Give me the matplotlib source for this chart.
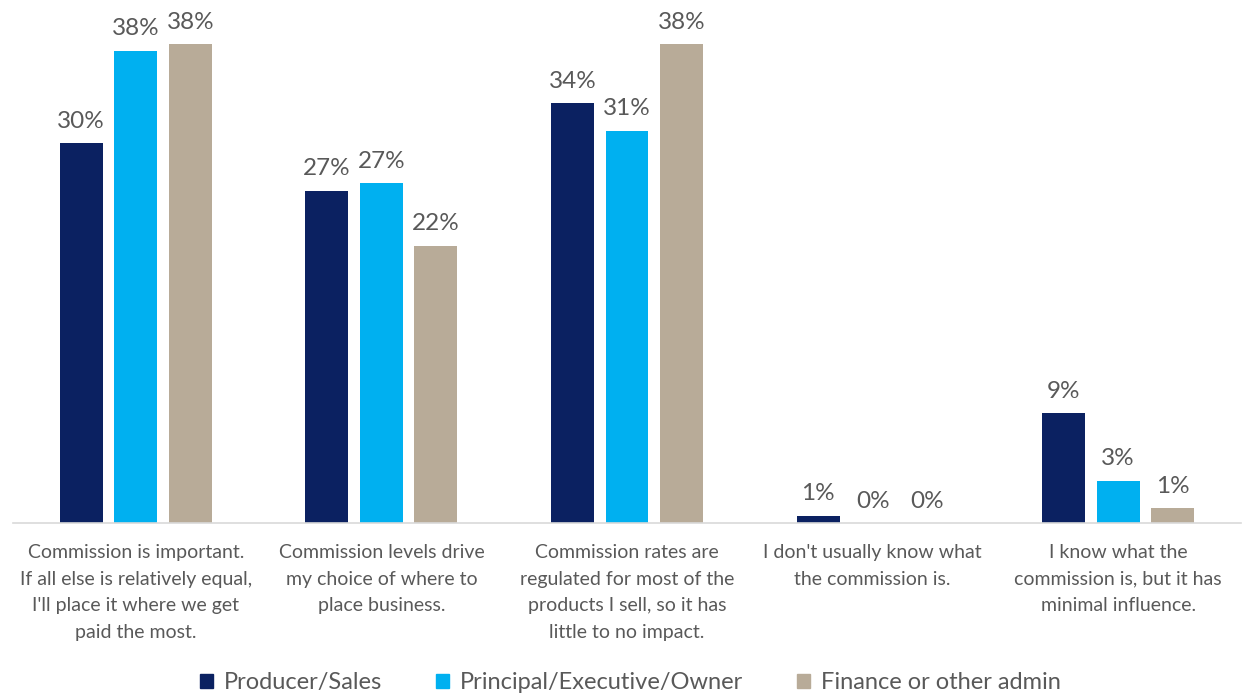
import numpy as np
import matplotlib.pyplot as plt
from matplotlib.patches import Patch

plt.rcParams['font.family'] = ['Lato', 'DejaVu Sans']

# Survey answers (x axis) and share of respondents per role, in percent
categories = [
    "Commission is important.\nIf all else is relatively equal,\nI'll place it where we get\npaid the most.",
    "Commission levels drive\nmy choice of where to\nplace business.",
    "Commission rates are\nregulated for most of the\nproducts I sell, so it has\nlittle to no impact.",
    "I don't usually know what\nthe commission is.",
    "I know what the\ncommission is, but it has\nminimal influence.",
]
producer = [30.4, 26.6, 33.6, 0.6, 8.8]
principal = [37.8, 27.2, 31.4, 0.0, 3.4]
finance = [38.3, 22.2, 38.3, 0.0, 1.2]

series = [
    ('Producer/Sales', producer, '#0B2161'),
    ('Principal/Executive/Owner', principal, '#00B0F0'),
    ('Finance or other admin', finance, '#B8AB98'),
]

fig = plt.figure(figsize=(12.43, 6.94), dpi=100)
ax = fig.add_axes([13 / 1243, 171 / 694, 1228 / 1243, 500 / 694])

x = np.arange(len(categories))
width = 0.175
step = 0.222
text_col = '#595959'

for i, (name, vals, col) in enumerate(series):
    pos = x + (i - 1) * step
    bars = ax.bar(pos, vals, width, color=col, label=name)
    for b, v in zip(bars, vals):
        ax.annotate(f'{v:.0f}%', (b.get_x() + b.get_width() / 2, v),
                    xytext=(0, 8), textcoords='offset points',
                    ha='center', va='bottom', fontsize=17.5, color=text_col)

ax.set_xlim(-0.5, len(categories) - 0.5)
ax.set_ylim(0, 40)
ax.set_yticks([])
ax.set_xticks(x)
ax.set_xticklabels(categories, fontsize=14, color=text_col, linespacing=1.7)
ax.tick_params(axis='x', length=0, pad=15)
for s in ['top', 'right', 'left']:
    ax.spines[s].set_visible(False)
ax.spines['bottom'].set_color('#D9D9D9')
ax.spines['bottom'].set_linewidth(1.2)

handles = [Patch(color=col, label=name) for name, _, col in series]
leg = fig.legend(handles=handles, loc='center', bbox_to_anchor=(0.507, 0.016),
                 ncol=3, frameon=False, fontsize=17, handlelength=0.55,
                 handleheight=0.55, handletextpad=0.45, columnspacing=2.3)
for t in leg.get_texts():
    t.set_color(text_col)

fig.savefig('out.png', dpi=100)
